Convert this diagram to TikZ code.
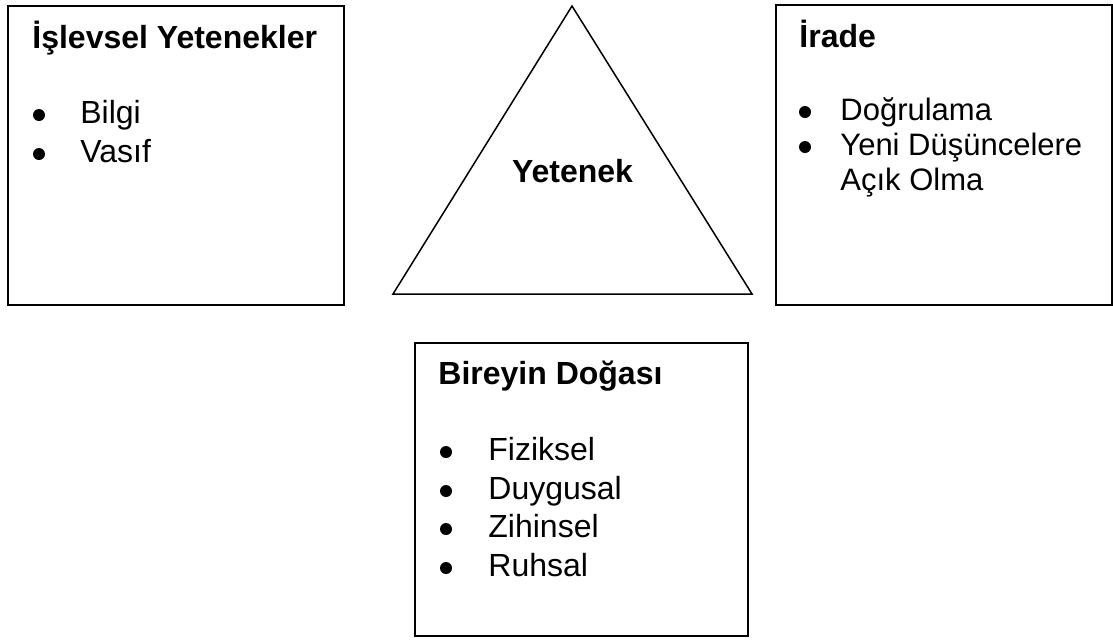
\documentclass[tikz,border=0pt]{standalone}
\usepackage{fontspec}
\setmainfont{Liberation Sans}
\begin{document}
\begin{tikzpicture}[
    x=0.5pt,y=-0.5pt,
    box/.style={draw,line width=1pt,inner sep=0pt},
    head/.style={anchor=base west,inner sep=0pt,font=\bfseries\fontsize{16}{19}\selectfont},
    item/.style={anchor=base west,inner sep=0pt,font=\fontsize{16}{19}\selectfont},
    dot/.style={circle,fill,inner sep=0pt,minimum size=6pt}
]
\useasboundingbox (0,0) rectangle (1113,639);
% three boxes
\node[box,minimum width=168pt,minimum height=149.5pt] (func) at (176,155.5) {};
\node[box,minimum width=168pt,minimum height=150pt] (will) at (944,155) {};
\node[box,minimum width=166.5pt,minimum height=146.5pt] (nature) at (581.5,489.5) {};
% triangle
\coordinate (apex) at (572,6);
\coordinate (bl) at (393,294);
\coordinate (br) at (752,294);
\draw[line width=0.75pt] (apex) -- (br) -- (bl) -- cycle;
\node[head,anchor=base] (abil) at (572.5,182) {Yetenek};
% left box
\node[head] (funct) at (32,48) {İşlevsel Yetenekler};
\node[dot] (f1) at (39,115) {};
\node[item] (f1t) at (80,123) {Bilgi};
\node[dot] (f2) at (39,154) {};
\node[item] (f2t) at (80,162) {Vasıf};
% right box
\node[head] (willt) at (799,47) {İrade};
\node[dot] (w1) at (805,112) {};
\node[item,font=\fontsize{15.5}{18}\selectfont] (w1t) at (840,120) {Doğrulama};
\node[dot] (w2) at (805,147) {};
\node[item,font=\fontsize{15.5}{18}\selectfont] (w2t) at (840,155) {Yeni Düşüncelere};
\node[item,font=\fontsize{15.5}{18}\selectfont] (w3t) at (840,190) {Açık Olma};
% bottom box
\node[head] (naturet) at (438,384) {Bireyin Doğası};
\node[dot] (n1) at (446,452) {};
\node[item] (n1t) at (488,460) {Fiziksel};
\node[dot] (n2) at (446,491) {};
\node[item] (n2t) at (488,499) {Duygusal};
\node[dot] (n3) at (446,529) {};
\node[item] (n3t) at (488,537) {Zihinsel};
\node[dot] (n4) at (446,568) {};
\node[item] (n4t) at (488,576) {Ruhsal};
\end{tikzpicture}
\end{document}
